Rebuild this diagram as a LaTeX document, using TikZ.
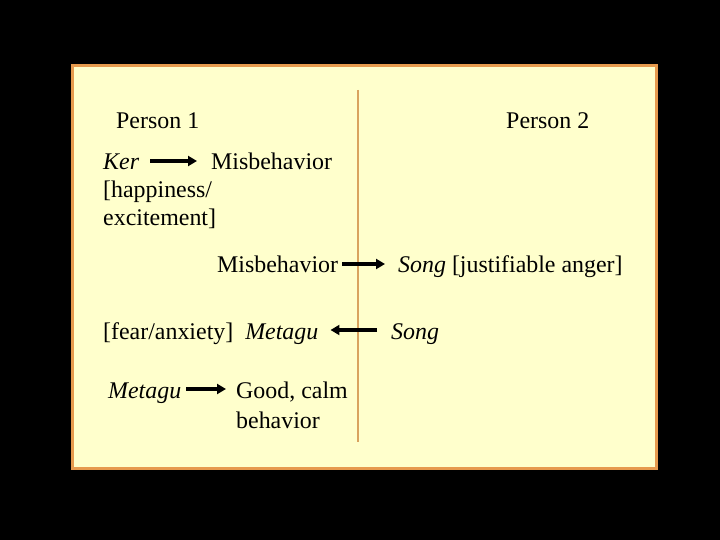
\documentclass[tikz,border=0pt]{standalone}
\usepackage{fontspec}
\setmainfont{Liberation Serif}
\usetikzlibrary{arrows.meta}
\definecolor{panelfill}{HTML}{FFFFCC}
\definecolor{panelline}{HTML}{E69A4E}
\definecolor{divline}{HTML}{D9A35F}
\tikzset{
	txt/.style={anchor=base west,inner sep=0pt,text height=18bp,text depth=0pt,
		font=\fontsize{24}{28}\selectfont},
	arr/.style={line width=3.4bp,-{Triangle[length=9bp,width=10bp]}}
}
\begin{document}
\begin{tikzpicture}[x=1bp,y=-1bp]
			\fill[black](0,0)rectangle(720,540);
			\draw[panelline,fill=panelfill,line width=3bp](72,66)rectangle(656,468);
			\draw[divline,line width=2.2bp](358,90)--(358,442);
			\node[txt](p1)at(116,129){Person 1};
			\node[txt](p2)at(506,129){Person 2};
			\node[txt](ker)at(103,170){\textit{Ker}};
			\node[txt](misa)at(211,170){Misbehavior};
			\node[txt](happy)at(103,198){[happiness/};
			\node[txt](excite)at(103,226){excitement]};
			\node[txt](misb)at(217,273){Misbehavior};
			\node[txt](songa)at(398,273){\textit{Song} [justifiable anger]};
			\node[txt](fear)at(103,339){[fear/anxiety]~~\textit{Metagu}};
			\node[txt](songb)at(391,339){\textit{Song}};
			\node[txt](metagu)at(108,398){\textit{Metagu}};
			\node[txt](good)at(236,398){Good, calm};
			\node[txt](behav)at(236,428){behavior};
			\draw[arr,shorten <=11bp,shorten >=14bp](ker)--(misa);
			\draw[arr,shorten <=4bp,shorten >=13bp](misb)--(songa);
			\draw[arr,shorten <=14bp,shorten >=12bp](songb)--(fear);
			\draw[arr,shorten <=5bp,shorten >=10bp](metagu)--(good);
		\end{tikzpicture}
\end{document}
